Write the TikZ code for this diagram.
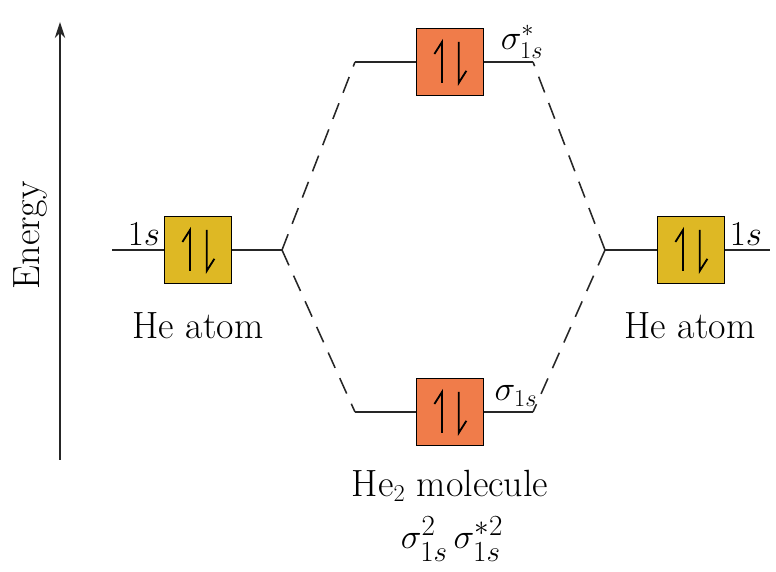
\documentclass[tikz,border=0pt]{standalone}
\usepackage{amsmath,amssymb,bm}
\usepackage{tikz}
\usetikzlibrary{arrows.meta,positioning}
\definecolor{heyellow}{RGB}{222,184,36}
\definecolor{heorange}{RGB}{240,124,74}
\tikzset{orb/.style={draw,fill=#1,minimum size=1.675cm,inner sep=0pt,line width=0.8pt},
  lvl/.style={line width=1.1pt,black!85},
  link/.style={line width=1.1pt,black!85,dash pattern=on 12pt off 8pt},
  spin/.style={line width=1.3pt,line join=miter},
  lab/.style={font=\fontsize{27}{32}\selectfont}}

\begin{document}
\begin{tikzpicture}[>=Stealth]
\useasboundingbox (0,0) rectangle (19.4,14.3);
% energy axis
\coordinate (eb) at (1.5,2.8);
\coordinate (et) at (1.5,13.75);
\draw[-{Stealth[length=4mm,width=2.6mm]},line width=1pt,black!85] (eb) -- (et);
\node[lab,rotate=90] (en) at (0.75,8.42) {Energy};
% levels
\coordinate (lL1) at (2.8,8.05);  \coordinate (lL2) at (7.05,8.05);
\coordinate (lR1) at (15.125,8.05); \coordinate (lR2) at (19.25,8.05);
\coordinate (sa1) at (8.875,12.75); \coordinate (sa2) at (13.325,12.75);
\coordinate (sb1) at (8.875,4.0);  \coordinate (sb2) at (13.325,4.0);
\draw[lvl] (lL1) -- (lL2);
\draw[lvl] (lR1) -- (lR2);
\draw[lvl] (sa1) -- (sa2);
\draw[lvl] (sb1) -- (sb2);
\draw[link] (lL2) -- (sa1);
\draw[link] (lL2) -- (sb1);
\draw[link] (lR1) -- (sa2);
\draw[link] (lR1) -- (sb2);
% orbital boxes
\node[orb=heyellow] (atomL) at (4.95,8.05) {};
\node[orb=heyellow] (atomR) at (17.275,8.05) {};
\node[orb=heorange] (sstar) at (11.25,12.75) {};
\node[orb=heorange] (sbond) at (11.25,4.0) {};
\foreach \b in {atomL,atomR,sstar,sbond}{
  \draw[spin] ([shift={(-0.2,-0.52)}]\b.center) -- ++(0,1.02) -- ++(-0.19,-0.3);
  \draw[spin] ([shift={(0.22,0.5)}]\b.center) -- ++(0,-1.02) -- ++(0.19,0.3);
}
% labels
\node[lab] (sL) at (3.6,8.45) {$1s$};
\node[lab] (sR) at (18.65,8.45) {$1s$};
\node[lab] (hL) at (4.95,6.17) {He atom};
\node[lab] (hR) at (17.25,6.17) {He atom};
\node[lab] (ta) at (13.05,13.25) {$\sigma^{*}_{1s}$};
\node[lab] (tb) at (12.9,4.4) {$\sigma_{1s}$};
\node[lab] (mol) at (11.25,2.15) {He$_2$ molecule};
\node[lab,font=\fontsize{30}{34}\selectfont] (cfg) at (11.3,0.82) {$\sigma^{2}_{1s}\,\sigma^{*2}_{1s}$};
\end{tikzpicture}
\end{document}
